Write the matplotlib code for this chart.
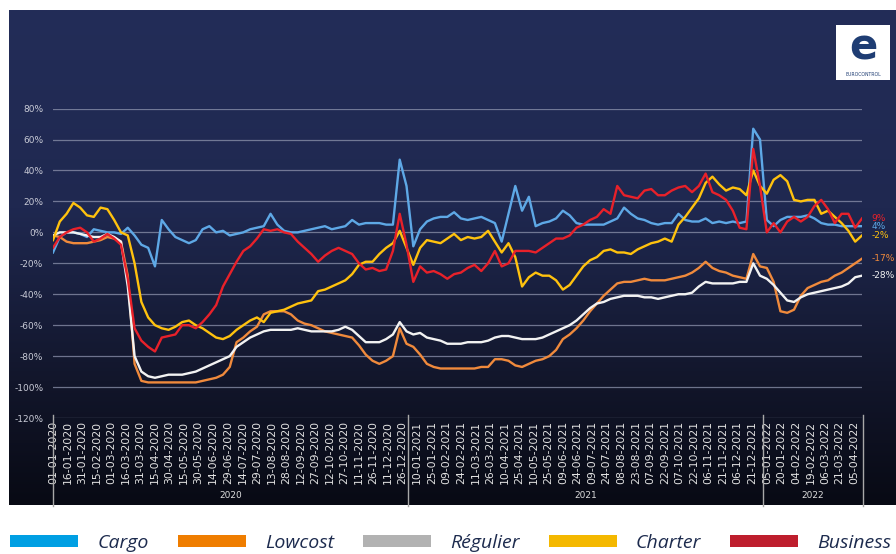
import numpy as np
import pandas as pd
import matplotlib
matplotlib.use("Agg")
import matplotlib.pyplot as plt
from matplotlib.colors import LinearSegmentedColormap
from matplotlib.patches import Patch, Rectangle

plt.rcParams['axes.unicode_minus'] = False

# semaines depuis le 01-01-2020 (variation en % vs 2019)
dates = pd.date_range('2020-01-01', periods=120, freq='7D')

cargo = [-13, -3, 0, 0, -1, -3, 2, 1, 0, 0,
         -1, 3, -2, -8, -10, -22, 8, 2, -3, -5,
         -7, -5, 2, 4, 0, 1, -2, -1, 0, 2,
         3, 4, 12, 5, 1, 0, 0, 1, 2, 3,
         4, 2, 3, 4, 8, 5, 6, 6, 6, 5,
         5, 47, 30, -9, 2, 7, 9, 10, 10, 13,
         9, 8, 9, 10, 8, 6, -6, 12, 30, 14,
         23, 4, 6, 7, 9, 14, 11, 6, 5, 5,
         5, 5, 7, 9, 16, 12, 9, 8, 6, 5,
         6, 6, 12, 8, 7, 7, 9, 6, 7, 6,
         7, 6, 7, 67, 60, 8, 4, 8, 10, 10,
         10, 11, 9, 6, 5, 5, 4, 4, 4, 4]

lowcost = [-2, -3, -6, -7, -7, -7, -6, -5, -3, -4,
           -6, -28, -85, -96, -97, -97, -97, -97, -97, -97,
           -97, -97, -96, -95, -94, -92, -87, -71, -68, -64,
           -61, -53, -51, -51, -51, -53, -57, -59, -60, -62,
           -64, -65, -66, -67, -68, -73, -79, -83, -85, -83,
           -80, -62, -72, -74, -79, -85, -87, -88, -88, -88,
           -88, -88, -88, -87, -87, -82, -82, -83, -86, -87,
           -85, -83, -82, -80, -76, -69, -66, -62, -57, -51,
           -46, -41, -37, -33, -32, -32, -31, -30, -31, -31,
           -31, -30, -29, -28, -26, -23, -19, -23, -25, -26,
           -28, -29, -30, -14, -22, -23, -32, -51, -52, -50,
           -41, -36, -34, -32, -31, -28, -26, -23, -20, -17]

regulier = [-2, 0, 0, 0, -1, -2, -3, -3, -1, -3,
            -6, -35, -80, -90, -93, -94, -93, -92, -92, -92,
            -91, -90, -88, -86, -84, -82, -80, -74, -71, -68,
            -66, -64, -63, -63, -63, -63, -62, -63, -64, -64,
            -64, -64, -63, -61, -63, -67, -71, -71, -71, -69,
            -66, -58, -64, -66, -65, -68, -69, -70, -72, -72,
            -72, -71, -71, -71, -70, -68, -67, -67, -68, -69,
            -69, -69, -68, -66, -64, -62, -60, -57, -53, -49,
            -46, -45, -43, -42, -41, -41, -41, -42, -42, -43,
            -42, -41, -40, -40, -39, -35, -32, -33, -33, -33,
            -33, -32, -32, -20, -28, -30, -34, -39, -44, -45,
            -42, -40, -39, -38, -37, -36, -35, -33, -29, -28]

charter = [-5, 7, 12, 19, 16, 11, 10, 16, 15, 8,
           0, -2, -20, -45, -55, -60, -62, -63, -61, -58,
           -57, -60, -62, -65, -68, -69, -67, -63, -60, -57,
           -55, -58, -52, -51, -50, -48, -46, -45, -44, -38,
           -37, -35, -33, -31, -27, -21, -19, -19, -14, -10,
           -7, 1, -10, -21, -10, -5, -6, -7, -4, -1,
           -5, -3, -4, -3, 1, -6, -13, -7, -16, -35,
           -29, -26, -28, -28, -31, -37, -34, -28, -22, -18,
           -16, -12, -11, -13, -13, -14, -11, -9, -7, -6,
           -4, -6, 5, 10, 16, 22, 32, 36, 31, 27,
           29, 28, 24, 40, 30, 25, 34, 37, 33, 21,
           20, 21, 21, 12, 14, 10, 6, 1, -6, -2]

business = [-10, -3, 0, 2, 3, 0, -6, -4, -1, -4,
            -8, -30, -62, -70, -74, -77, -68, -67, -66, -60,
            -60, -62, -58, -53, -47, -35, -27, -19, -12, -9,
            -4, 2, 1, 2, 0, -1, -6, -10, -14, -19,
            -15, -12, -10, -12, -14, -20, -24, -23, -25, -24,
            -12, 12, -8, -32, -22, -26, -25, -27, -30, -27,
            -26, -23, -21, -25, -20, -12, -22, -20, -12, -12,
            -12, -13, -10, -7, -4, -4, -2, 3, 5, 8,
            10, 15, 12, 30, 24, 23, 22, 27, 28, 24,
            24, 27, 29, 30, 26, 30, 38, 26, 24, 21,
            14, 3, 2, 54, 30, 0, 6, 0, 7, 10,
            7, 10, 17, 21, 15, 6, 12, 12, 3, 9]

names = ['Cargo', 'Lowcost', 'Régulier', 'Charter', 'Business']
line_colors = ['#5ea8e6', '#f08a3c', '#f2f2f2', '#ffc20e', '#e8212a']
legend_colors = ['#009fe3', '#ef7d00', '#b2b2b2', '#f4b800', '#be1e2d']

tick_dates = pd.date_range('2020-01-01', '2022-04-10', freq='15D')
year_names = ['2020', '2021', '2022']
year_bounds = pd.to_datetime(['2020-01-01', '2021-01-01', '2022-01-01', '2022-04-14'])
yticks = list(range(-120, 81, 20))

fig = plt.figure(figsize=(8.96, 5.54), dpi=100)
fig.patch.set_facecolor('white')

# fond dégradé bleu nuit
bg = fig.add_axes([9 / 896, 49 / 554, 887 / 896, 495 / 554])
cmap = LinearSegmentedColormap.from_list(
    'nuit', [(0.0, '#080a14'), (0.25, '#12162b'), (0.6, '#1f2850'), (1.0, '#232d58')])
grad = np.linspace(0, 1, 256).reshape(-1, 1)
bg.imshow(grad, aspect='auto', cmap=cmap, origin='lower', extent=[0, 1, 0, 1])
bg.axis('off')

ax = fig.add_axes([53 / 896, 1 - 418 / 554, 809 / 896, 309.4 / 554])
ax.set_facecolor('none')

series = [cargo, lowcost, regulier, charter, business]
for name, vals, c in zip(names, series, line_colors):
    ax.plot(dates, vals, color=c, lw=1.7, label=name, solid_joinstyle='round')
    ax.annotate(f"{vals[-1]}%", xy=(dates[-1], vals[-1]), xytext=(7, 0),
                textcoords='offset points', va='center', ha='left',
                fontsize=6.5, color=c, annotation_clip=False)

ax.set_xlim(year_bounds[0], pd.Timestamp('2022-04-13'))
ax.set_ylim(-120, 80)
ax.set_yticks(yticks)
ax.set_yticklabels([f"{v}%" for v in yticks], fontsize=6.5, color='#c8cad6')
ax.yaxis.grid(True, color='#8d93ad', lw=0.9, alpha=0.75)
ax.set_axisbelow(True)

ax.set_xticks(tick_dates)
ax.set_xticklabels([d.strftime('%d-%m-%Y') for d in tick_dates],
                   rotation=90, fontsize=7.8, color='#e2e2e2')
ax.tick_params(axis='x', length=0, pad=2)
ax.tick_params(axis='y', length=0, pad=7)
for s in ax.spines.values():
    s.set_visible(False)

xt = ax.get_xaxis_transform()
for b in year_bounds:
    ax.plot([b, b], [0.01, -0.283], transform=xt, clip_on=False, color='#a8a8a8', lw=1)
for i, yname in enumerate(year_names):
    mid = year_bounds[i] + (year_bounds[i + 1] - year_bounds[i]) / 2
    ax.text(mid, -0.252, yname, transform=xt, ha='center', va='center',
            fontsize=6.5, color='#dcdcdc')

# logo
fig.add_artist(Rectangle((836 / 896, 1 - 80 / 554), 54 / 896, 55 / 554,
                         transform=fig.transFigure, facecolor='white', edgecolor='none'))
fig.text(863 / 896, 1 - 47 / 554, 'e', ha='center', va='center', fontsize=30,
         fontweight='bold', color='#1f3d73')
fig.text(863 / 896, 1 - 75 / 554, 'EUROCONTROL', ha='center', va='center',
         fontsize=3.3, color='#1f3d73')

handles = [Patch(facecolor=c, edgecolor='none') for c in legend_colors]
leg = fig.legend(handles, names, loc='center left', bbox_to_anchor=(10 / 896, 1 - 543 / 554),
                 ncol=5, frameon=False, prop=dict(family='Open Sans', style='italic', size=14),
                 handlelength=3.5, handleheight=0.6, handletextpad=0.98,
                 columnspacing=1.5, borderpad=0, borderaxespad=0)
for t in leg.get_texts():
    t.set_color('#1d2b4e')

fig.savefig('out.png', dpi=100, facecolor='white')
